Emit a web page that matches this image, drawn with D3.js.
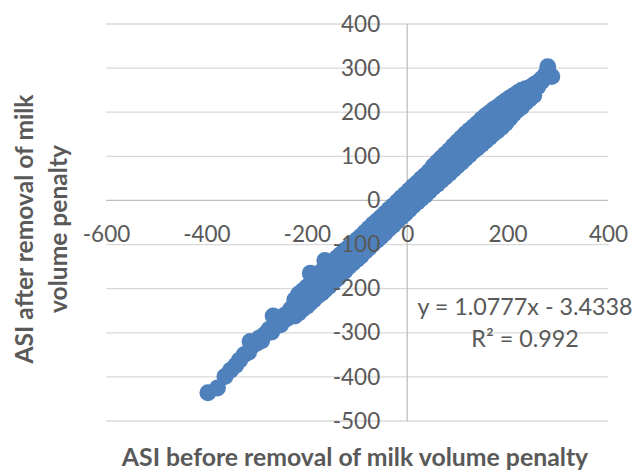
<!DOCTYPE html>
<html>
<head>
<meta charset="utf-8">
<script src="https://cdn.jsdelivr.net/npm/d3@7"></script>
<style>
  body { margin: 0; background: #fff; }
  text { font-family: Lato, "Open Sans", sans-serif; fill: #595959; }
</style>
</head>
<body>
<svg id="chart"></svg>
<script>
const xTicks = [-600, -400, -200, 0, 200, 400];
const yTicks = [400, 300, 200, 100, 0, -100, -200, -300, -400, -500];

// ASI before / after removal of milk volume penalty
const asiBefore = [
  -397, -378, -363, -352, -342, -334, -325, -316, -313, -310, -300, -295,
  -290, -285, -280, -275, -270, -267, -262, -258, -252, -248, -244, -240, -236, -232, -228,
  -224, -224, -224, -216, -216, -216, -208, -208, -208, -200, -200, -200,
  -193, -193, -193, -193, -186, -186, -186, -178, -178, -178, -170, -170, -170,
  -164, -164, -164, -164, -156, -156, -156, -148, -148, -148, -140, -140, -140,
  -132, -132, -132, -124, -124, -124, -116, -116, -116, -108, -108, -108,
  -100, -100, -100, -92, -92, -92, -84, -84, -84, -76, -76, -76, -68, -68, -68,
  -60, -60, -60, -52, -52, -52, -44, -44, -44, -36, -36, -36, -28, -28, -28,
  -20, -20, -20, -12, -12, -12, -4, -4, -4, 4, 4, 4, 12, 12, 12, 20, 20, 20,
  28, 28, 28, 36, 36, 36, 44, 44, 44,
  52, 52, 52, 60, 60, 60, 68, 68, 68, 76, 76, 76, 84, 84, 84, 92, 92, 92,
  100, 100, 100, 108, 108, 108, 116, 116, 116, 124, 124, 124, 132, 132, 132,
  140, 140, 140, 148, 148, 148, 156, 156, 156, 164, 164, 164, 172, 172, 172,
  180, 180, 180, 188, 188, 188, 196, 196, 196,
  204, 204, 204, 212, 212, 212, 220, 220, 220, 228, 228, 228, 236, 236, 236,
  244, 244, 244, 252, 252, 252, 260, 260, 268, 268, 275, 280, 288
];
const asiAfter = [
  -436, -425, -399, -385, -374, -362, -350, -344, -320, -331, -324, -312,
  -318, -305, -300, -292, -298, -262, -285, -275, -282, -268, -260, -268, -255, -246, -256,
  -225, -248, -262, -212, -238, -255, -205, -230, -246, -196, -222, -240,
  -165, -190, -215, -232, -180, -206, -225, -170, -198, -216, -160, -186, -210,
  -136, -155, -182, -203, -148, -170, -195, -140, -165, -186, -130, -156, -178,
  -122, -148, -168, -113, -138, -160, -106, -130, -150, -98, -121, -142,
  -89, -112, -134, -81, -104, -126, -72, -95, -116, -63, -86, -108, -54, -78, -99,
  -46, -69, -90, -38, -61, -82, -29, -52, -74, -20, -43, -64, -12, -35, -56,
  -3, -26, -47, 6, -17, -38, 14, -8, -30, 23, 0, -21, 32, 9, -12, 40, 17, -4,
  49, 26, 4, 57, 34, 12, 66, 43, 21,
  78, 54, 30, 87, 61, 37, 96, 70, 45, 105, 79, 53, 114, 87, 61, 124, 96, 70,
  133, 104, 78, 142, 113, 86, 151, 122, 95, 159, 130, 103, 167, 139, 112,
  175, 147, 119, 184, 156, 127, 192, 165, 135, 199, 173, 143, 206, 182, 151,
  212, 191, 158, 219, 199, 166, 226, 207, 175,
  232, 210, 186, 238, 218, 196, 244, 226, 205, 250, 232, 212, 253, 238, 222,
  256, 245, 230, 262, 250, 238, 268, 258, 276, 270, 285, 303, 281
];

const trendLines = ['y = 1.0777x - 3.4338', 'R² = 0.992'];
const xTitle = 'ASI before removal of milk volume penalty';
const yTitle = ['ASI after removal of milk', 'volume penalty'];

const width = 635;
const height = 470;
const points = asiBefore.map((d, i) => ({ x: d, y: asiAfter[i] }));

const svg = d3.select('#chart')
  .attr('width', width)
  .attr('height', height);

const x = d3.scaleLinear().domain([-600, 400]).range([106, 608]);
const y = d3.scaleLinear().domain([-500, 400]).range([421, 24]);

// horizontal gridlines
svg.append('g')
  .selectAll('line')
  .data(yTicks.filter(d => d !== 0))
  .enter().append('line')
    .attr('x1', x(-600))
    .attr('x2', x(400))
    .attr('y1', d => y(d))
    .attr('y2', d => y(d))
    .attr('stroke', '#d9d9d9')
    .attr('stroke-width', 1.3);

// axis lines through zero
svg.append('line')
  .attr('x1', x(-600)).attr('x2', x(400))
  .attr('y1', y(0)).attr('y2', y(0))
  .attr('stroke', '#bfbfbf').attr('stroke-width', 1.3);
svg.append('line')
  .attr('x1', x(0)).attr('x2', x(0))
  .attr('y1', y(400)).attr('y2', y(-500))
  .attr('stroke', '#bfbfbf').attr('stroke-width', 1.3);

// points
svg.append('g')
  .selectAll('circle')
  .data(points)
  .enter().append('circle')
    .attr('cx', d => x(d.x))
    .attr('cy', d => y(d.y))
    .attr('r', 8.5)
    .attr('fill', '#4f81bd');

// tick labels on top of the points (plain hyphen minus, as in the original)
const fmt = d => String(d);
const yAxis = svg.append('g')
  .attr('transform', `translate(${x(0)},0)`)
  .call(d3.axisLeft(y).tickValues(yTicks).tickFormat(fmt).tickSize(0).tickPadding(27));
const xAxis = svg.append('g')
  .attr('transform', `translate(0,${y(0)})`)
  .call(d3.axisBottom(x).tickValues(xTicks).tickFormat(fmt).tickSize(0).tickPadding(26));
[yAxis, xAxis].forEach(a => {
  a.select('.domain').remove();
  a.selectAll('text')
    .attr('fill', '#595959')
    .style('font-size', '22.5px')
    .style('font-family', 'Lato, "Open Sans", sans-serif');
});

// trendline equation
svg.append('g')
  .selectAll('text')
  .data(trendLines)
  .enter().append('text')
    .attr('x', 525)
    .attr('y', (d, i) => 315 + i * 32)
    .attr('text-anchor', 'middle')
    .style('font-size', '23.3px')
    .text(d => d);

// axis titles
svg.append('text')
  .attr('x', 355)
  .attr('y', 466)
  .attr('text-anchor', 'middle')
  .style('font-size', '24.8px')
  .style('font-weight', 'bold')
  .text(xTitle);

svg.append('g')
  .selectAll('text')
  .data(yTitle)
  .enter().append('text')
    .attr('transform', (d, i) => `translate(${33 + i * 34},229) rotate(-90)`)
    .attr('text-anchor', 'middle')
    .style('font-size', '24.6px')
    .style('font-weight', 'bold')
    .text(d => d);
</script>
</body>
</html>
